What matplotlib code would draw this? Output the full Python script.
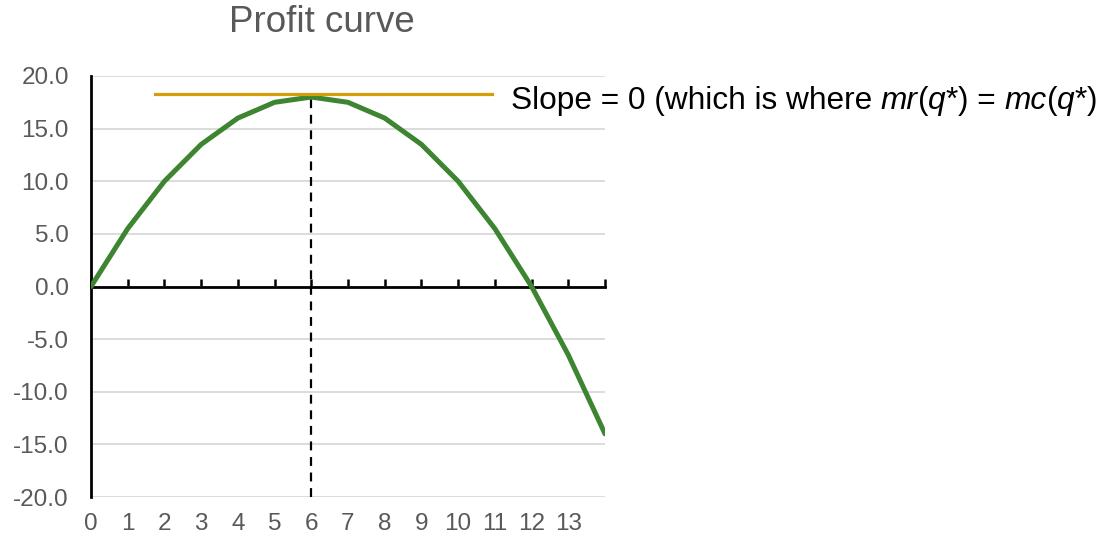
import matplotlib.pyplot as plt

plt.rcParams['font.family'] = ['Liberation Sans', 'DejaVu Sans']

# profit at each quantity
q = [0, 1, 2, 3, 4, 5, 6, 7, 8, 9, 10, 11, 12, 13, 14]
profit = [0.0, 5.5, 10.0, 13.5, 16.0, 17.5, 18.0, 17.5, 16.0, 13.5, 10.0, 5.5, 0.0, -6.5, -14.0]

# tangent line at the top
slope_x = [1.75, 10.93]
slope_y = [18.25, 18.25]
q_star = 6
x_labels = [str(i) for i in range(14)]
y_ticks = [-20, -15, -10, -5, 0, 5, 10, 15, 20]

grey = '#595959'

fig = plt.figure(figsize=(11.16, 5.37), dpi=100)
ax = fig.add_axes([91 / 1116, 1 - 497 / 537, (605 - 91) / 1116, (497 - 76) / 537])

ax.set_xlim(0, 14)
ax.set_ylim(-20, 20)
ax.set_yticks(y_ticks)
ax.set_yticklabels(['%.1f' % v for v in y_ticks])
ax.yaxis.grid(True, color='#d9d9d9', linewidth=1.3)
ax.set_axisbelow(True)

for s in ['top', 'right']:
    ax.spines[s].set_visible(False)
ax.spines['left'].set_linewidth(2)
ax.spines['bottom'].set_position(('data', 0))
ax.spines['bottom'].set_linewidth(2)

ax.set_xticks(range(15))
ax.set_xticklabels([])
ax.tick_params(axis='x', direction='in', length=6, width=1.8, color='black')
ax.tick_params(axis='y', length=0, labelsize=17.5, labelcolor=grey, pad=16)

# x labels sit below the plot, not on the zero line
for i, lab in enumerate(x_labels):
    ax.text(i, -21.5, lab, ha='center', va='top', fontsize=17.5, color=grey)

ax.plot(q, profit, color='#3d8530', linewidth=3.6, solid_capstyle='round', zorder=3)
ax.plot(slope_x, slope_y, color='#d39e0a', linewidth=2.3, zorder=4)
ax.plot([q_star, q_star], [-20, 18], color='black', linestyle=(0, (4, 3)), linewidth=1.6, zorder=2)

# annotation, plain and italic parts chained after one another
parts = [('Slope = 0 (which is where ', 'normal'), ('mr', 'italic'), ('(', 'normal'),
         ('q*', 'italic'), (') = ', 'normal'), ('mc', 'italic'), ('(', 'normal'),
         ('q*', 'italic'), (')', 'normal')]
t = ax.text(11.43, 17.6, parts[0][0], fontsize=22.8, va='center', ha='left', clip_on=False)
for txt, style in parts[1:]:
    t = ax.annotate(txt, xy=(1, 0), xycoords=t, va='bottom', ha='left',
                    fontsize=22.8, style=style, annotation_clip=False)

fig.text(322 / 1116, 1 - 23 / 537, 'Profit curve', ha='center', va='center', fontsize=26.5, color=grey)

fig.savefig('out.png', dpi=100)
